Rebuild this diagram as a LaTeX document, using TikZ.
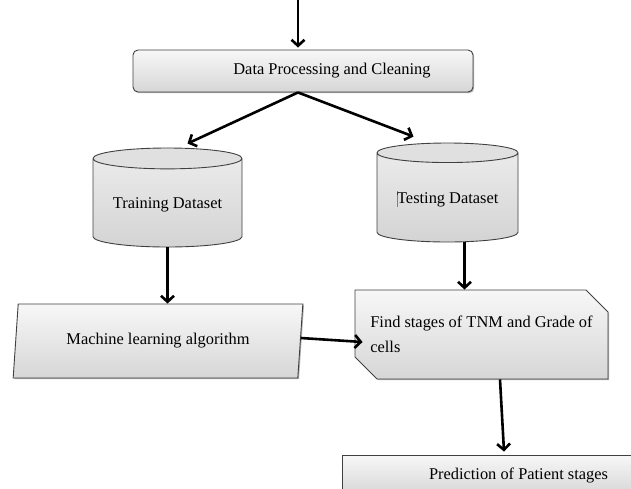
\documentclass[tikz,border=0pt]{standalone}
\usepackage{fontspec}
\setmainfont{Liberation Serif}
\usepackage{tikz}
\usetikzlibrary{arrows.meta,shapes.geometric,shapes.misc,positioning,shadows}
\definecolor{edgegray}{HTML}{404040}
\tikzset{%
      boxfill/.style = { top color=gray!6, bottom color=gray!32, draw=edgegray, line width=.9pt,
                         drop shadow={shadow xshift=1.2pt, shadow yshift=-1.2pt, fill=black!60, opacity=.5} },
     procbox/.style = { boxfill, rectangle, rounded corners=5pt },
    database/.style = { cylinder, shape border rotate=90, aspect=0.18, draw=edgegray, line width=.9pt,
                        anchor=shape center, top color=gray!14, bottom color=gray!34,
                        path picture={\fill[gray!24] ([yshift=-10pt]path picture bounding box.north) ellipse (75pt and 10pt);} },
     algobox/.style = { boxfill, trapezium, trapezium left angle=81, trapezium right angle=99,
                        trapezium stretches=true },
    stagebox/.style = { boxfill, chamfered rectangle, chamfered rectangle corners={north east,south west},
                        chamfered rectangle xsep=10pt, chamfered rectangle ysep=12pt },
     outcome/.style = { boxfill, rectangle },
        link/.style = { line width=2.6pt, -{Straight Barb[length=6pt,width=13pt]} }
}

\begin{document}
\begin{tikzpicture}[x=1pt,y=-1pt,font=\fontsize{16.4}{25}\selectfont]
  \useasboundingbox (0,0) rectangle (631,488);

  \node[procbox, minimum width=340pt, minimum height=42pt] (data) at (303,71)
    {\hspace*{58pt}Data Processing and Cleaning};
  \node[database, minimum width=149pt, minimum height=99pt] (train) at (167.5,197.5) {Training Dataset};
  \node[database, minimum width=141pt, minimum height=99pt] (test) at (447.5,192.5)
    {\textcolor{gray}{\rule[-4pt]{.5pt}{16pt}}Testing Dataset};
  \node[algobox, minimum width=290pt, minimum height=74pt] (algo) at (158,341) {Machine learning algorithm};
  \node[stagebox, minimum width=253pt, minimum height=89pt, align=left] (stage) at (481.5,334.5)
    {Find stages of TNM and Grade of\\cells};
  \node[outcome, minimum width=353pt, minimum height=40pt] (predict) at (518.5,475) {Prediction of Patient stages};

  \coordinate (src) at (298,0);
  \coordinate (split) at (data.south -| src);

  \draw[link, shorten >=2pt] (src) -- (src |- data.north);
  \draw[link] (split) -- ([xshift=20pt,yshift=4pt]train.north);
  \draw[link] (split) -- ([xshift=-34pt,yshift=6pt]test.north);
  \draw[link] (train.south) -- (train.south |- algo.north);
  \draw[link] ([xshift=17pt]test.south) -- ([xshift=17pt]test.south |- stage.north);
  \draw[link] ([yshift=3pt]algo.east) -- ([xshift=8pt,yshift=-7.5pt]stage.west);
  \draw[link] ([xshift=18.5pt]stage.south) -- ([xshift=-14.5pt,yshift=3pt]predict.north);
\end{tikzpicture}
\end{document}
